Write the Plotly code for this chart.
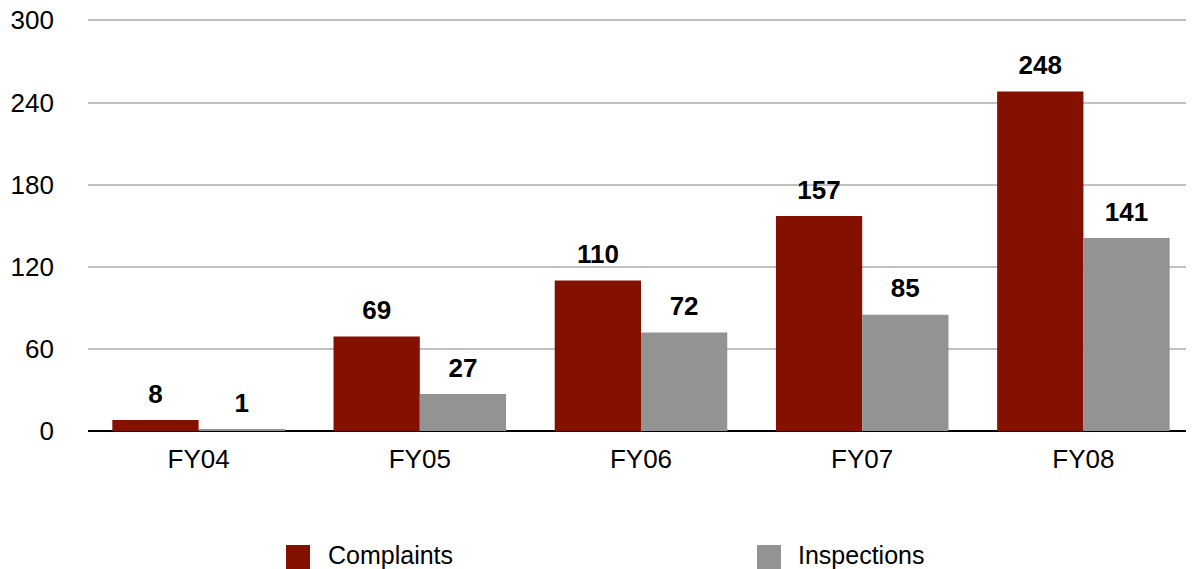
import plotly.graph_objects as go

categories = ["FY04", "FY05", "FY06", "FY07", "FY08"]
complaints = [8, 69, 110, 157, 248]
inspections = [1, 27, 72, 85, 141]
series_names = ["Complaints", "Inspections"]
tick_vals = [0, 60, 120, 180, 240, 300]

colors = ["#841000", "#939393"]
FONT = "Liberation Sans, Arial, Helvetica, sans-serif"
GAP = 0.22

fig = go.Figure()
for i, (name, vals, c) in enumerate(zip(series_names, [complaints, inspections], colors)):
    fig.add_trace(go.Bar(
        x=categories, y=vals, name=name, marker=dict(color=c, line=dict(width=0)),
        offsetgroup=str(i), showlegend=False, hoverinfo="x+y",
    ))
for i, (name, vals) in enumerate(zip(series_names, [complaints, inspections])):
    fig.add_trace(go.Scatter(
        x=categories, y=vals, mode="markers+text", text=[f"<b>{v}</b>" for v in vals],
        textposition="top center", offsetgroup=str(i), cliponaxis=False,
        marker=dict(size=16, color="rgba(0,0,0,0)"),
        textfont=dict(family=FONT, size=26, color="black"),
        showlegend=False, hoverinfo="skip",
    ))

# page body has an 8px margin, so the figure is sized to end at the window edge
fig.update_layout(
    width=1186, height=561,
    margin=dict(l=80, r=0, t=11, b=138, autoexpand=False),
    paper_bgcolor="white", plot_bgcolor="white",
    barmode="group", bargap=GAP, bargroupgap=0,
    scattermode="group", scattergap=GAP,
    font=dict(family=FONT, size=26, color="black"),
    xaxis=dict(showgrid=False, showline=False, ticks="", tickfont=dict(size=26),
               ticklabelstandoff=10),
    yaxis=dict(range=[0, 301], tickvals=tick_vals, showgrid=True, gridcolor="#c0c0c0",
               gridwidth=2, zeroline=True, zerolinecolor="black", zerolinewidth=2,
               showline=False, ticks="", tickfont=dict(size=26), ticklabelstandoff=33,
               ticklabeloverflow="allow"),
)

# custom legend (paper coordinates below the plot area)
legend_items = [(series_names[0], colors[0], 0.179, 0.2152),
                (series_names[1], colors[1], 0.6049, 0.640)]
for name, c, x0, xt in legend_items:
    fig.add_shape(type="rect", xref="paper", yref="paper",
                  x0=x0, x1=x0 + 24 / 1106, y0=-0.2767, y1=-0.3350,
                  fillcolor=c, line=dict(width=0))
    fig.add_annotation(xref="paper", yref="paper", x=xt, y=-0.3000,
                       text=name, showarrow=False, xanchor="left", yanchor="middle",
                       font=dict(family=FONT, size=25, color="black"))

fig.write_html("out.html")
